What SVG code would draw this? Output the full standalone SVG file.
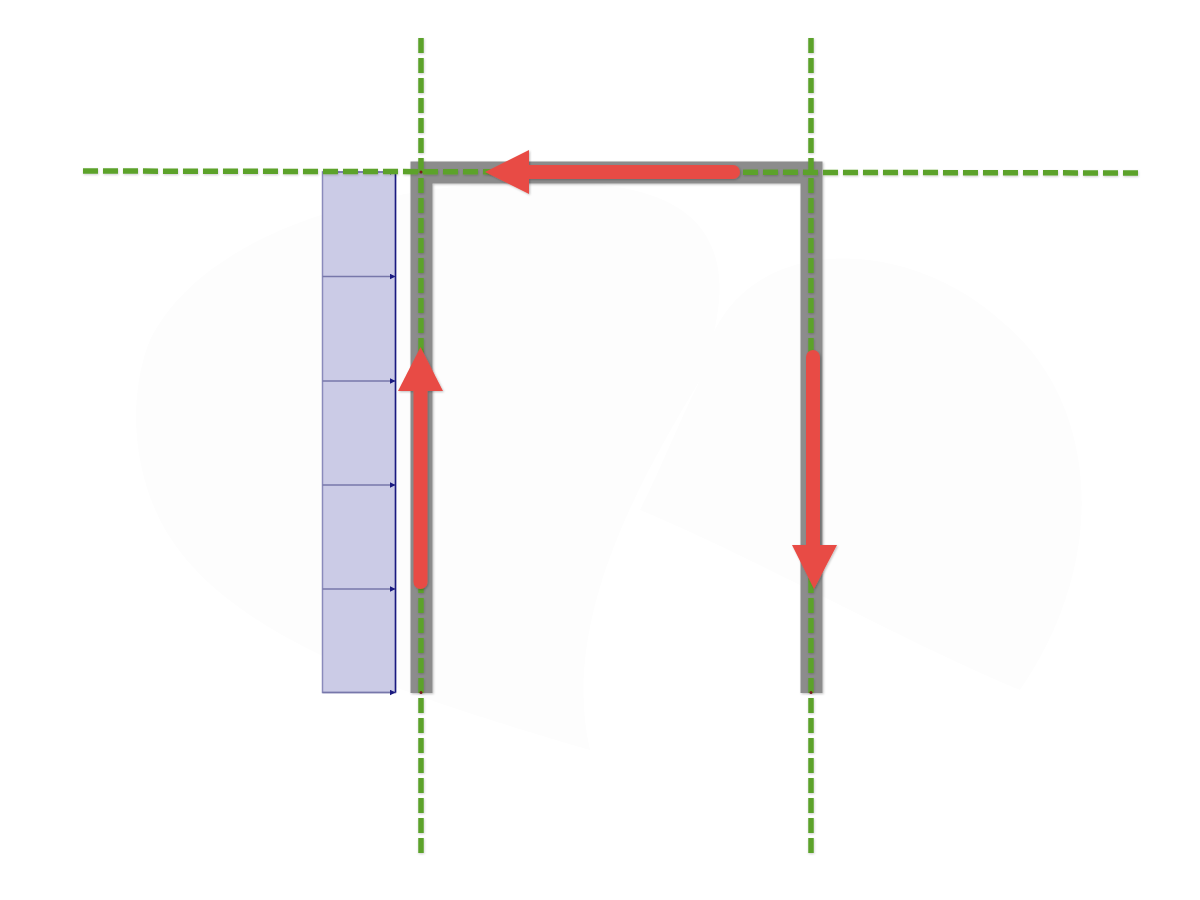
<svg xmlns="http://www.w3.org/2000/svg" width="1200" height="900" viewBox="0 0 1200 900">
  <defs>
    <style>
      .guide { fill: none; stroke: #5ca22b; stroke-width: 5.5; stroke-dasharray: 15 5; }
      .frame { fill: none; stroke: #8c8c8c; stroke-width: 22; stroke-linejoin: miter; }
      .shaft { fill: none; stroke: #e84c44; stroke-width: 14; stroke-linecap: round; }
      .head { fill: #e84c44; }
      .cell { fill: #cbcbe6; stroke: #8a8abb; stroke-width: 1.5; }
      .tick { stroke: #7777aa; stroke-width: 1.5; marker-end: url(#tri); }
    </style>
    <marker id="tri" viewBox="0 0 6 6" refX="6" refY="3" markerWidth="6" markerHeight="6" markerUnits="userSpaceOnUse" orient="auto">
      <path d="M0,0 L6,3 L0,6 Z" fill="#1a1a80"/>
    </marker>
    <filter id="sh" x="-20%" y="-20%" width="140%" height="140%">
      <feDropShadow dx="1" dy="1" stdDeviation="1.2" flood-color="#000" flood-opacity="0.25"/>
    </filter>
    <filter id="shg" x="-5%" y="-5%" width="110%" height="110%">
      <feDropShadow dx="0.5" dy="1" stdDeviation="0.8" flood-color="#000" flood-opacity="0.2"/>
    </filter>
  </defs>

  <rect width="1200" height="900" fill="#ffffff"/>

  <g id="background" fill="#fdfdfd">
    <path d="M150,340 C210,220 420,170 600,185 C760,200 720,320 700,380 C640,480 560,620 590,750 C420,700 220,640 160,520 C130,460 130,390 150,340 Z"/>
    <path d="M700,380 C720,230 900,230 1000,320 C1100,400 1110,560 1020,690 C900,640 760,560 640,510 C660,470 680,420 700,380 Z"/>
  </g>

  <g id="panel">
    <rect class="cell" x="322.5" y="172" width="73" height="520.5"/>
    <line class="tick" x1="322.5" y1="172" x2="395.5" y2="172"/>
    <line class="tick" x1="322.5" y1="276.5" x2="395.5" y2="276.5"/>
    <line class="tick" x1="322.5" y1="381" x2="395.5" y2="381"/>
    <line class="tick" x1="322.5" y1="485" x2="395.5" y2="485"/>
    <line class="tick" x1="322.5" y1="589" x2="395.5" y2="589"/>
    <line class="tick" x1="322.5" y1="692.5" x2="395.5" y2="692.5"/>
    <line x1="395.5" y1="172" x2="395.5" y2="692.5" stroke="#1a1a80" stroke-width="1.5"/>
  </g>

  <g id="frame" filter="url(#sh)">
    <path class="frame" d="M421.5,693 V172.5 H811.5 V693"/>
  </g>

  <g id="guides" filter="url(#shg)">
    <line class="guide" x1="83" y1="171" x2="1138" y2="173"/>
    <line class="guide" x1="421" y1="38" x2="421" y2="853"/>
    <line class="guide" x1="811" y1="38" x2="811" y2="853"/>
  </g>

  <g id="connectors" filter="url(#sh)">
    <g id="arrow-top">
      <line class="shaft" x1="733" y1="172" x2="526" y2="172"/>
      <polygon class="head" points="485,172 529,150 529,194"/>
    </g>
    <g id="arrow-left">
      <line class="shaft" x1="420.5" y1="582" x2="420.5" y2="388"/>
      <polygon class="head" points="420.5,347 398,391 443,391"/>
    </g>
    <g id="arrow-right">
      <line class="shaft" x1="813" y1="357" x2="813" y2="548"/>
      <polygon class="head" points="814,589 792,545 837,545"/>
    </g>
  </g>

  <g id="joints" fill="#7a1a1a">
    <circle cx="421" cy="692.5" r="1.5"/>
    <circle cx="811" cy="692.5" r="1.5"/>
    <circle cx="421" cy="172" r="1.5"/>
  </g>
</svg>
